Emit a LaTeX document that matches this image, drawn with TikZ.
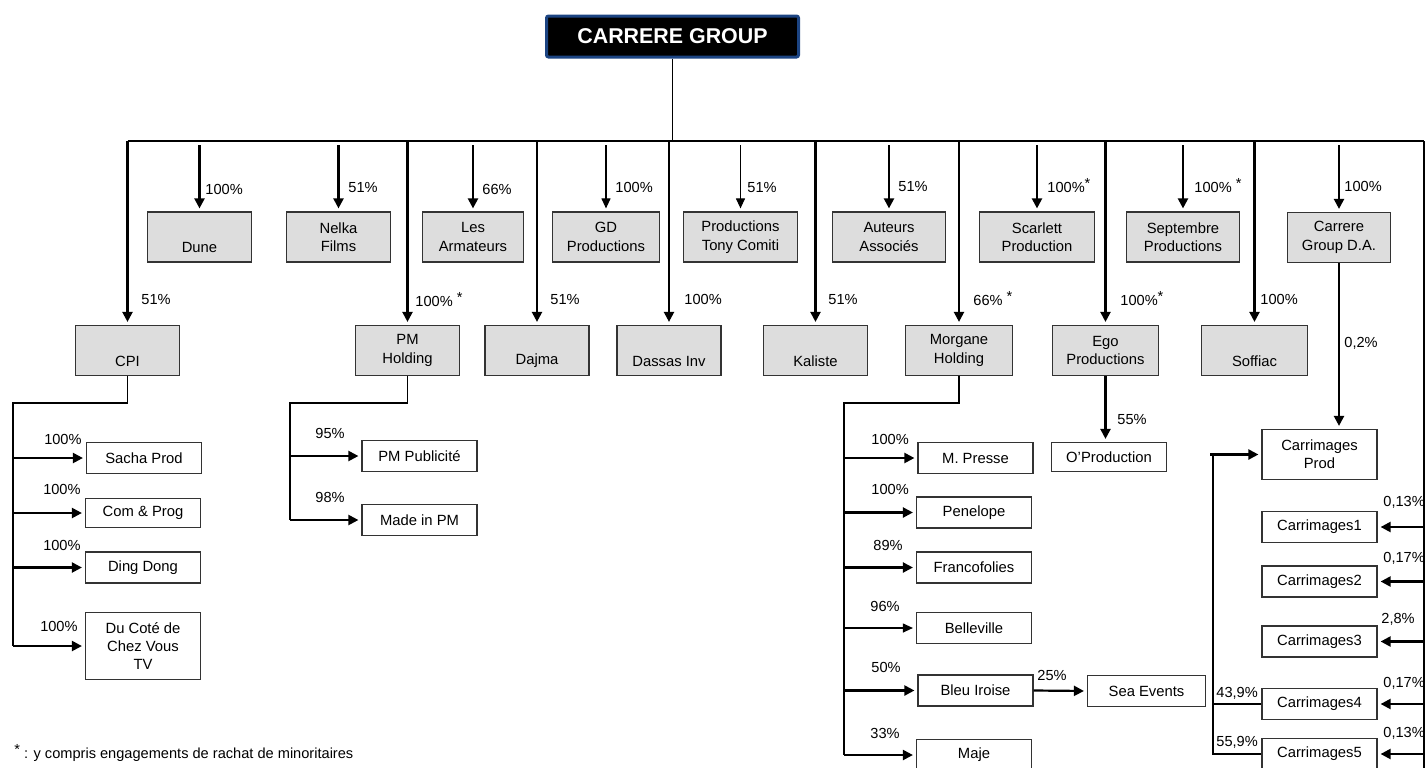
\documentclass[tikz,border=0pt]{standalone}
\usepackage{fontspec}
\setmainfont{Liberation Sans}
\usepackage{xcolor}
\usetikzlibrary{arrows.meta,positioning,calc}
\definecolor{titrebleu}{RGB}{28,68,130}
\newcommand{\petit}{\fontsize{7.4}{9.2}\selectfont}
\newcommand{\etoile}{\raisebox{2pt}{*}}

\begin{document}
\begin{tikzpicture}[x=0.5pt,y=-0.5pt]
  \tikzstyle{title}=[rectangle, draw=titrebleu, fill=black, line width=1.5pt, rounded corners=1pt, text=white, font=\bfseries\fontsize{10.7}{12}\selectfont, minimum width=126pt, minimum height=20.5pt]
  \tikzstyle{firm}=[rectangle, draw=black!80, fill=gray!27, line width=0.6pt, minimum width=52pt, minimum height=25pt, align=center, font=\petit, inner sep=1pt]
  \tikzstyle{sub}=[rectangle, draw=black!80, fill=white, line width=0.6pt, minimum width=57.5pt, minimum height=15.5pt, align=center, font=\petit, inner sep=1pt]
  \tikzstyle{pct}=[font=\fontsize{7.3}{9}\selectfont, inner sep=0pt]
  \tikzstyle{link}=[line width=0.55pt]
  \tikzstyle{own}=[line width=1.1pt, -{Triangle[length=5pt,width=5pt]}, shorten >=1.5pt]
  \tikzstyle{ownthin}=[line width=0.55pt, -{Triangle[length=5pt,width=4.5pt]}, shorten >=1.5pt]

  \useasboundingbox (0,0) rectangle (1426,767);
  \clip (0,0) rectangle (1426,767);

  % Tete du groupe
  \node[title] (group) at (672.5,36.5) {CARRERE GROUP};
  \coordinate (bus) at (0,141);
  \coordinate (rail) at (1424,141);
  \coordinate (railend) at (1424,780);

  % Premiere rangee
  \node[firm] (dune) at (199.5,237) {\strut\\Dune};
  \node[firm] (nelka) at (338.5,237) {Nelka\\Films};
  \node[firm, minimum width=50.5pt] (armateurs) at (473,237) {Les\\Armateurs};
  \node[firm, minimum width=53.5pt] (gd) at (606,237) {GD\\Productions};
  \node[firm, minimum width=57pt] (comiti) at (740.5,237) {Productions\\Tony Comiti};
  \node[firm, minimum width=56.5pt] (auteurs) at (889,237) {Auteurs\\Associés};
  \node[firm, minimum width=57.5pt] (scarlett) at (1037,237) {Scarlett\\Production};
  \node[firm, minimum width=56.5pt] (septembre) at (1183,237) {Septembre\\Productions};
  \node[firm, minimum width=51.5pt] (carrereda) at (1339,237.5) {Carrere\\Group D.A.};

  % Deuxieme rangee
  \node[firm] (cpi) at (127.5,350.5) {\strut\\CPI};
  \node[firm] (pmholding) at (407.5,350.5) {PM\\Holding};
  \node[firm] (dajma) at (537,350.5) {\strut\\Dajma};
  \node[firm] (dassas) at (669,350.5) {\strut\\Dassas Inv};
  \node[firm] (kaliste) at (815.5,350.5) {\strut\\Kaliste};
  \node[firm, minimum width=53.5pt] (morgane) at (959,350.5) {Morgane\\Holding};
  \node[firm, minimum width=53pt] (ego) at (1105.5,350.5) {Ego\\Productions};
  \node[firm, minimum width=53pt] (soffiac) at (1254.5,350.5) {\strut\\Soffiac};

  % Filiales CPI
  \node[sub] (sacha) at (144,458) {Sacha Prod};
  \node[sub, minimum height=14.5pt] (comprog) at (143,513) {Com \& Prog};
  \node[sub] (dingdong) at (143,567.5) {Ding Dong};
  \node[sub, minimum height=33.5pt] (ducote) at (143,646) {Du Coté de\\Chez Vous\\TV};

  % Filiales PM Holding
  \node[sub] (pmpub) at (419.5,456) {PM Publicité};
  \node[sub] (madein) at (419.5,520) {Made in PM};

  % Filiales Morgane
  \node[sub] (mpresse) at (975.5,458) {M. Presse};
  \node[sub] (penelope) at (974,512.5) {Penelope};
  \node[sub] (franco) at (974,567.5) {Francofolies};
  \node[sub] (belleville) at (974,628) {Belleville};
  \node[sub] (bleu) at (975.5,690.5) {Bleu Iroise};
  \node[sub] (maje) at (974,755) {Maje};
  \node[sub, minimum width=59pt] (seaevents) at (1146.5,691) {Sea Events};
  \node[sub, minimum height=14.5pt] (oprod) at (1109,457) {O'Production};

  % Carrimages
  \node[sub, minimum height=25pt] (cprod) at (1319.5,454.5) {Carrimages\\Prod};
  \node[sub] (c1) at (1319.5,527) {Carrimages1};
  \node[sub] (c2) at (1319.5,581.5) {Carrimages2};
  \node[sub] (c3) at (1319.5,641.5) {Carrimages3};
  \node[sub] (c4) at (1319.5,704) {Carrimages4};
  \node[sub] (c5) at (1319.5,754) {Carrimages5};

  % Liaisons du groupe
  \draw[link] (group.south) -- (group.south |- bus);
  \draw[link] (cpi |- bus) -- (rail);
  \draw[line width=0.8pt] (rail) -- (railend);
  \foreach \n in {dune,nelka,armateurs,auteurs,scarlett,septembre,carrereda}
    \draw[own, shorten <=2pt] (\n |- bus) -- (\n.north);
  \foreach \n in {gd,comiti}
    \draw[ownthin, shorten <=2pt] (\n |- bus) -- (\n.north);
  \foreach \n in {cpi,pmholding,dajma,dassas,kaliste,morgane,ego,soffiac}
    \draw[own] (\n |- bus) -- (\n.north);

  \node[pct, anchor=west] at (205,189) {100\%};
  \node[pct, anchor=west] at (348,187) {51\%};
  \node[pct, anchor=west] at (482,189) {66\%};
  \node[pct, anchor=west] at (615,187) {100\%};
  \node[pct, anchor=west] at (747,187) {51\%};
  \node[pct, anchor=west] at (898,186) {51\%};
  \node[pct, anchor=west] at (1047,186) {100\%\etoile};
  \node[pct, anchor=west] at (1194,186) {100\%~\etoile};
  \node[pct, anchor=west] at (1344,186) {100\%};
  \node[pct, anchor=west] at (141,299) {51\%};
  \node[pct, anchor=west] at (415,300) {100\%~\etoile};
  \node[pct, anchor=west] at (550,299) {51\%};
  \node[pct, anchor=west] at (684,299) {100\%};
  \node[pct, anchor=west] at (828,299) {51\%};
  \node[pct, anchor=west] at (973,299) {66\%~\etoile};
  \node[pct, anchor=west] at (1120,299) {100\%\etoile};
  \node[pct, anchor=west] at (1260,299) {100\%};

  % CPI
  \coordinate (cpiL) at (13,403);
  \draw[link] (cpi.south) -- (cpi.south |- cpiL) -- (cpiL) -- (cpiL |- ducote);
  \foreach \n in {sacha,comprog,dingdong,ducote}
    \draw[own] (cpiL |- \n) -- (\n.west);
  \node[pct, anchor=east] at (82,439) {100\%};
  \node[pct, anchor=east] at (81,489) {100\%};
  \node[pct, anchor=east] at (81,545) {100\%};
  \node[pct, anchor=east] at (78,626) {100\%};

  % PM Holding
  \coordinate (pmL) at (290,403);
  \draw[link] (pmholding.south) -- (pmholding.south |- pmL) -- (pmL) -- (pmL |- madein);
  \foreach \n in {pmpub,madein}
    \draw[own] (pmL |- \n) -- (\n.west);
  \node[pct, anchor=west] at (315,433) {95\%};
  \node[pct, anchor=west] at (315,497) {98\%};

  % Morgane Holding
  \coordinate (morL) at (844,403);
  \draw[link] (morgane.south) -- (morgane.south |- morL) -- (morL) -- (morL |- maje);
  \foreach \n in {mpresse,penelope,franco,bleu,maje}
    \draw[own] (morL |- \n) -- (\n.west);
  \draw[ownthin] (morL |- belleville) -- (belleville.west);
  \draw[own] (bleu.east) -- (seaevents.west);
  \node[pct, anchor=west] at (871,439) {100\%};
  \node[pct, anchor=west] at (871,489) {100\%};
  \node[pct, anchor=west] at (873,545) {89\%};
  \node[pct, anchor=west] at (870,606) {96\%};
  \node[pct, anchor=west] at (871,667) {50\%};
  \node[pct, anchor=west] at (870,733) {33\%};
  \node[pct, anchor=west] at (1037,675) {25\%};

  % Ego
  \draw[own] (ego.south) -- (ego.south |- oprod.north);
  \node[pct, anchor=west] at (1117,419) {55\%};

  % Carrere Group D.A. et Carrimages
  \draw[own] (carrereda.south) -- (carrereda.south |- cprod.north);
  \node[pct, anchor=west] at (1344,343) {0,2\%};
  \coordinate (cpL) at (1213,0);
  \draw[link] (cpL |- cprod) -- (cpL |- c5) -- (c5.west);
  \draw[link] (cpL |- c4) -- (c4.west);
  \draw[own] ([xshift=-1.5pt]cpL |- cprod) -- (cprod.west);
  \foreach \n in {c1,c2,c3,c4,c5}
    \draw[own] (rail |- \n) -- (\n.east);
  \node[pct, anchor=west] at (1383,502) {0,13\%};
  \node[pct, anchor=west] at (1383,558) {0,17\%};
  \node[pct, anchor=west] at (1381,619) {2,8\%};
  \node[pct, anchor=west] at (1383,683) {0,17\%};
  \node[pct, anchor=west] at (1383,733) {0,13\%};
  \node[pct, anchor=west] at (1216,693) {43,9\%};
  \node[pct, anchor=west] at (1216,742) {55,9\%};

  % Note
  \node[pct, anchor=west] (note) at (14,753) {\etoile\ : y compris engagements de rachat de minoritaires};
\end{tikzpicture}
\end{document}
